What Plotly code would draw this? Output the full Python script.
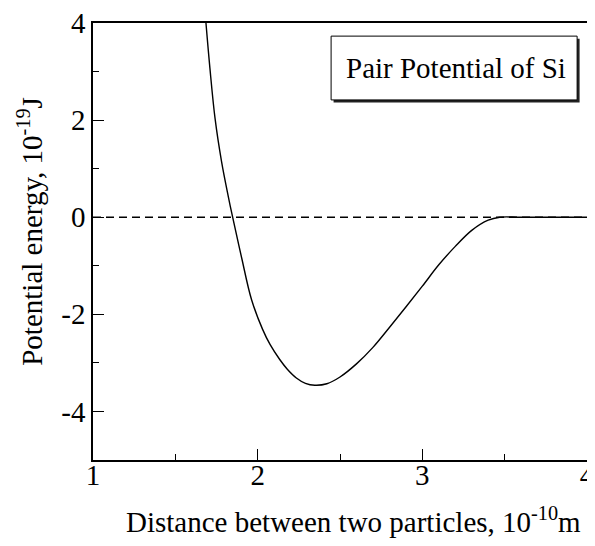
import plotly.graph_objects as go

# Pair potential of Si
distance = [1.686, 1.710, 1.741, 1.781, 1.822, 1.848, 1.903, 1.963, 2.030, 2.075,
            2.134, 2.180, 2.235, 2.290, 2.347, 2.420, 2.500, 2.600, 2.700, 2.800,
            2.900, 3.000, 3.100, 3.200, 3.300, 3.400, 3.470, 3.600, 4.000]
energy = [4.0, 3.07, 2.04, 1.14, 0.42, 0.0, -0.84, -1.70, -2.31, -2.62,
          -2.93, -3.13, -3.31, -3.42, -3.46, -3.43, -3.29, -3.02, -2.68, -2.27,
          -1.85, -1.42, -0.98, -0.60, -0.27, -0.06, 0.0, 0.0, 0.0]

zero_x = [1.0, 4.0]
zero_y = [0.0, 0.0]

x_ticks = [1, 2, 3, 4]
y_ticks = [-4, -2, 0, 2, 4]

FONT = "Liberation Serif, Times New Roman, serif"

fig = go.Figure()
fig.add_trace(go.Scatter(x=zero_x, y=zero_y, mode="lines",
                         line=dict(color="black", width=1.5, dash="8px,5px"),
                         showlegend=False, hoverinfo="skip"))
fig.add_trace(go.Scatter(x=distance, y=energy, mode="lines",
                         line=dict(color="black", width=1.4, shape="spline", smoothing=1.0),
                         showlegend=False))

axis_common = dict(showgrid=False, zeroline=False, showline=True, linecolor="black",
                   linewidth=1.5, mirror=True, ticks="inside", ticklen=11, tickwidth=1.2,
                   tickcolor="black", tickfont=dict(family=FONT, size=29, color="black"),
                   ticklabeloverflow="allow", automargin=False)

fig.update_xaxes(range=[1, 4], tickvals=x_ticks, ticktext=[str(v) for v in x_ticks],
                 minor=dict(dtick=0.5, ticks="inside", ticklen=6, tickwidth=1.2, tickcolor="black"),
                 ticklabelstandoff=-12,
                 **axis_common)
fig.update_yaxes(range=[-5, 4], tickvals=y_ticks, ticktext=[str(v) for v in y_ticks],
                 minor=dict(dtick=1, ticks="inside", ticklen=6, tickwidth=1.2, tickcolor="black"),
                 ticklabelstandoff=0,
                 **axis_common)

# axis titles
fig.add_annotation(xref="paper", yref="paper", x=0.527, y=-0.138,
                   text="Distance between two particles, 10<sup>-10</sup>m",
                   showarrow=False, font=dict(family=FONT, size=29, color="black"),
                   xanchor="center", yanchor="middle")
fig.add_annotation(xref="paper", yref="paper", x=-0.128, y=0.524,
                   text="Potential energy, 10<sup>-19</sup>J", textangle=-90,
                   showarrow=False, font=dict(family=FONT, size=29, color="black"),
                   xanchor="center", yanchor="middle")

# label box with drop shadow
fig.add_shape(type="rect", xref="paper", yref="paper", x0=0.487, x1=0.985, y0=0.818, y1=0.964,
              fillcolor="#222222", line=dict(width=0), layer="above")
fig.add_shape(type="rect", xref="paper", yref="paper", x0=0.482, x1=0.980, y0=0.824, y1=0.970,
              fillcolor="white", line=dict(color="black", width=1), layer="above")
fig.add_annotation(xref="paper", yref="paper", x=0.735, y=0.897, text="Pair Potential of Si",
                   showarrow=False, font=dict(family=FONT, size=29, color="black"),
                   xanchor="center", yanchor="middle")

# the page body adds an 8px margin; keep the figure inside the window so nothing scrolls
fig.update_layout(width=579, height=530, margin=dict(l=85, r=0, t=15, b=78),
                  plot_bgcolor="white", paper_bgcolor="white")

fig.write_html("out.html")
